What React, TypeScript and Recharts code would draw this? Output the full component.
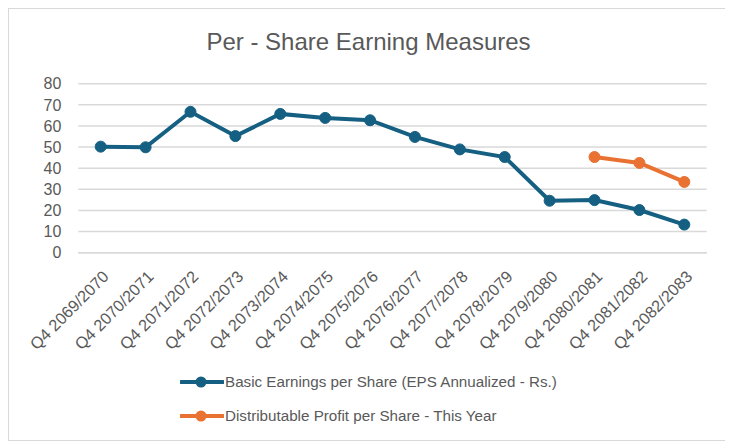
import React from "react";
import { LineChart, Line, XAxis, YAxis, CartesianGrid, Legend } from "recharts";

const categories = [
  "Q4 2069/2070",
  "Q4 2070/2071",
  "Q4 2071/2072",
  "Q4 2072/2073",
  "Q4 2073/2074",
  "Q4 2074/2075",
  "Q4 2075/2076",
  "Q4 2076/2077",
  "Q4 2077/2078",
  "Q4 2078/2079",
  "Q4 2079/2080",
  "Q4 2080/2081",
  "Q4 2081/2082",
  "Q4 2082/2083",
];

const epsValues = [50.2, 49.9, 66.7, 55.2, 65.7, 63.8, 62.7, 54.8, 48.9, 45.3, 24.6, 24.9, 20.2, 13.3];
const dpsValues: (number | null)[] = [null, null, null, null, null, null, null, null, null, null, null, 45.3, 42.5, 33.5];

const yTicks = [0, 10, 20, 30, 40, 50, 60, 70, 80];

const EPS_NAME = "Basic Earnings per Share (EPS Annualized - Rs.)";
const DPS_NAME = "Distributable Profit per Share - This Year";

const data = categories.map((c, i) => ({ name: c, eps: epsValues[i], dps: dpsValues[i] }));

const FONT = '"Liberation Sans", Arial, sans-serif';
const TEXT = "#595959";
const BLUE = "#156082";
const ORANGE = "#E97132";

const XTick = (props: any) => {
  const { x, y, payload } = props;
  return (
    <g transform={`translate(${x + 9},${y + 25})`}>
      <text transform="rotate(-45)" textAnchor="end" fill={TEXT} fontSize={16.3} fontFamily={FONT}>
        {payload.value}
      </text>
    </g>
  );
};

const LegendContent = (props: any) => {
  const payload = props.payload || [];
  return (
    <div style={{ fontFamily: FONT }}>
      {payload.map((p: any) => (
        <div key={p.value} style={{ display: "flex", alignItems: "center", height: 34.3 }}>
          <svg width={44} height={14} style={{ display: "block" }}>
            <line x1={1} y1={7} x2={43} y2={7} stroke={p.color} strokeWidth={4} strokeLinecap="round" />
            <circle cx={21} cy={7} r={5.5} fill={p.color} />
          </svg>
          <span style={{ marginLeft: 1, fontSize: 15.2, color: TEXT, whiteSpace: "nowrap" }}>{p.value}</span>
        </div>
      ))}
    </div>
  );
};

export default function App() {
  return (
    <div
      style={{
        position: "relative",
        width: 719,
        height: 431,
        border: "1px solid #d9d9d9",
        background: "#fff",
      }}
    >
      <LineChart
        width={719}
        height={431}
        data={data}
        margin={{ top: 74.7, right: 21.3, bottom: 87.3, left: 0 }}
      >
        <CartesianGrid vertical={false} stroke="#d9d9d9" strokeWidth={1.5} />
        <XAxis
          dataKey="name"
          interval={0}
          tickLine={false}
          tickSize={0}
          tickMargin={0}
          padding={{ left: 22.4, right: 22.4 }}
          axisLine={{ stroke: "#d9d9d9", strokeWidth: 1.5 }}
          height={100}
          tick={<XTick />}
        />
        <YAxis
          domain={[0, 80]}
          ticks={yTicks}
          interval={0}
          width={69.3}
          axisLine={false}
          tickLine={false}
          tickSize={0}
          tickMargin={17}
          tick={{ fill: TEXT, fontSize: 16, fontFamily: FONT }}
        />
        <Legend
          layout="vertical"
          align="center"
          verticalAlign="middle"
          content={<LegendContent />}
          wrapperStyle={{ top: 355.5, left: 171, width: 420 }}
        />
        <Line
          type="linear"
          dataKey="eps"
          name={EPS_NAME}
          stroke={BLUE}
          strokeWidth={4}
          dot={{ r: 5.5, fill: BLUE, stroke: BLUE, strokeWidth: 1 }}
          activeDot={false}
          isAnimationActive={false}
        />
        <Line
          type="linear"
          dataKey="dps"
          name={DPS_NAME}
          stroke={ORANGE}
          strokeWidth={4}
          dot={{ r: 5.5, fill: ORANGE, stroke: ORANGE, strokeWidth: 1 }}
          activeDot={false}
          connectNulls={false}
          isAnimationActive={false}
        />
      </LineChart>
      <svg
        width={719}
        height={60}
        style={{ position: "absolute", left: 0, top: 0, pointerEvents: "none" }}
      >
        <text x={359.5} y={41} textAnchor="middle" fontSize={24} fill={TEXT} fontFamily={FONT}>
          Per - Share Earning Measures
        </text>
      </svg>
    </div>
  );
}
